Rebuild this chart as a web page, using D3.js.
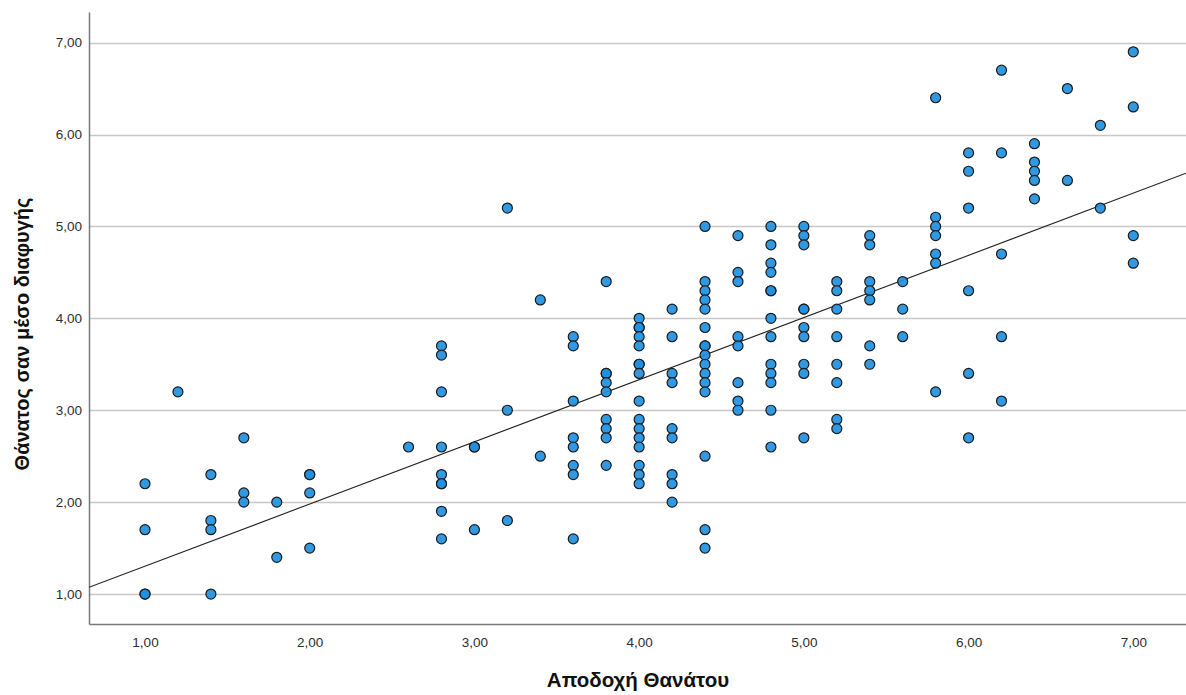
<!DOCTYPE html>
<html>
<head>
<meta charset="utf-8">
<script src="https://cdn.jsdelivr.net/npm/d3@7"></script>
<style>
  html, body { margin: 0; padding: 0; background: #fff; }
  svg { display: block; }
  text { font-family: "Liberation Sans", Arial, sans-serif; }
</style>
</head>
<body>
<svg id="chart" width="1186" height="695"></svg>
<script>
// Observations grouped by x value (Αποδοχή Θανάτου); each entry lists the y values
// (Θάνατος σαν μέσο διαφυγής) recorded at that x.
const xGroups = [1.0, 1.2, 1.4, 1.6, 1.8, 2.0, 2.6, 2.8, 3.0, 3.2, 3.4, 3.6, 3.8, 4.0,
                 4.2, 4.4, 4.6, 4.8, 5.0, 5.2, 5.4, 5.6, 5.8, 6.0, 6.2, 6.4, 6.6, 6.8, 7.0];
const yGroups = [
  [2.2, 1.7, 1.0, 1.0],
  [3.2],
  [2.3, 1.8, 1.7, 1.0],
  [2.7, 2.1, 2.0],
  [2.0, 1.4],
  [2.3, 2.3, 2.1, 1.5],
  [2.6],
  [3.7, 3.6, 3.2, 2.6, 2.3, 2.2, 2.2, 1.9, 1.6],
  [2.6, 2.6, 1.7],
  [5.2, 3.0, 1.8],
  [4.2, 2.5],
  [3.8, 3.7, 3.1, 2.7, 2.6, 2.4, 2.3, 1.6],
  [4.4, 3.4, 3.4, 3.3, 3.2, 2.9, 2.8, 2.7, 2.4],
  [4.0, 3.9, 3.9, 3.8, 3.7, 3.5, 3.5, 3.4, 3.1, 2.9, 2.8, 2.7, 2.6, 2.4, 2.3, 2.2],
  [4.1, 3.8, 3.4, 3.3, 2.8, 2.7, 2.3, 2.2, 2.0],
  [5.0, 4.4, 4.3, 4.2, 4.1, 3.9, 3.7, 3.7, 3.6, 3.5, 3.4, 3.3, 3.2, 2.5, 1.7, 1.5],
  [4.9, 4.5, 4.4, 3.8, 3.7, 3.3, 3.1, 3.0],
  [5.0, 4.8, 4.6, 4.5, 4.3, 4.3, 4.0, 3.8, 3.5, 3.4, 3.3, 3.0, 2.6],
  [5.0, 4.9, 4.8, 4.1, 4.1, 3.9, 3.8, 3.5, 3.4, 2.7],
  [4.4, 4.3, 4.1, 3.8, 3.5, 3.3, 2.9, 2.8],
  [4.9, 4.8, 4.4, 4.3, 4.2, 3.7, 3.5],
  [4.4, 4.1, 3.8],
  [6.4, 5.1, 5.0, 4.9, 4.7, 4.6, 3.2],
  [5.8, 5.6, 5.2, 4.3, 3.4, 2.7],
  [6.7, 5.8, 4.7, 3.8, 3.1],
  [5.9, 5.7, 5.6, 5.5, 5.3],
  [6.5, 5.5],
  [6.1, 5.2],
  [6.9, 6.3, 4.9, 4.6]
];

const xTicks = [1, 2, 3, 4, 5, 6, 7];
const yTicks = [1, 2, 3, 4, 5, 6, 7];
const xTitle = "Αποδοχή Θανάτου";
const yTitle = "Θάνατος σαν μέσο διαφυγής";

const points = [];
xGroups.forEach((xv, i) => yGroups[i].forEach(yv => points.push({ x: xv, y: yv })));

// Ordinary least-squares fit line
const mx = d3.mean(points, d => d.x);
const my = d3.mean(points, d => d.y);
const slope = d3.sum(points, d => (d.x - mx) * (d.y - my)) / d3.sum(points, d => (d.x - mx) ** 2);
const intercept = my - slope * mx;

const svg = d3.select("#chart");
const plotLeft = 89, plotRight = 1186, plotTop = 12, plotBottom = 624;

const x = d3.scaleLinear().domain([0.66, 7.32]).range([plotLeft, plotRight]);
const y = d3.scaleLinear().domain([0.674, 7.333]).range([plotBottom, plotTop]);

const fmt = v => d3.format(".2f")(v).replace(".", ",");

// Horizontal grid lines
svg.append("g")
  .selectAll("line")
  .data(yTicks)
  .join("line")
  .attr("x1", plotLeft).attr("x2", plotRight)
  .attr("y1", d => Math.round(y(d)) + 0.5).attr("y2", d => Math.round(y(d)) + 0.5)
  .attr("stroke", "#c8c8c8").attr("stroke-width", 1.3);

// Axes
const xAxis = svg.append("g")
  .attr("transform", `translate(0,${plotBottom})`)
  .call(d3.axisBottom(x).tickValues(xTicks).tickFormat(fmt).tickSize(0).tickPadding(13));
xAxis.select(".domain").attr("stroke", "#7a7a7a").attr("stroke-width", 1.5);
xAxis.selectAll("text").attr("font-size", 13.5).attr("fill", "#2e2e2e");

const yAxis = svg.append("g")
  .attr("transform", `translate(${plotLeft},0)`)
  .call(d3.axisLeft(y).tickValues(yTicks).tickFormat(fmt).tickSize(0).tickPadding(7));
yAxis.select(".domain").attr("stroke", "#7a7a7a").attr("stroke-width", 1.5);
yAxis.selectAll("text").attr("font-size", 13.5).attr("fill", "#2e2e2e");

// Fit line clipped to plot area
svg.append("defs").append("clipPath").attr("id", "plot")
  .append("rect").attr("x", plotLeft).attr("y", plotTop)
  .attr("width", plotRight - plotLeft).attr("height", plotBottom - plotTop);

svg.append("line")
  .attr("clip-path", "url(#plot)")
  .attr("x1", x(0.66)).attr("y1", y(intercept + slope * 0.66))
  .attr("x2", x(7.32)).attr("y2", y(intercept + slope * 7.32))
  .attr("stroke", "#222").attr("stroke-width", 1.1);

// Points
svg.append("g")
  .selectAll("circle")
  .data(points)
  .join("circle")
  .attr("cx", d => x(d.x))
  .attr("cy", d => y(d.y))
  .attr("r", 5)
  .attr("fill", "#1e90e0")
  .attr("fill-opacity", 0.92)
  .attr("stroke", "#1b1b1b")
  .attr("stroke-width", 1.2);

// Axis titles
svg.append("text")
  .attr("x", 638)
  .attr("y", 687)
  .attr("text-anchor", "middle")
  .attr("font-size", 20.5)
  .attr("font-weight", "bold")
  .attr("fill", "#111")
  .text(xTitle);

svg.append("text")
  .attr("transform", `translate(29,334) rotate(-90)`)
  .attr("text-anchor", "middle")
  .attr("font-size", 20)
  .attr("font-weight", "bold")
  .attr("fill", "#111")
  .text(yTitle);
</script>
</body>
</html>
